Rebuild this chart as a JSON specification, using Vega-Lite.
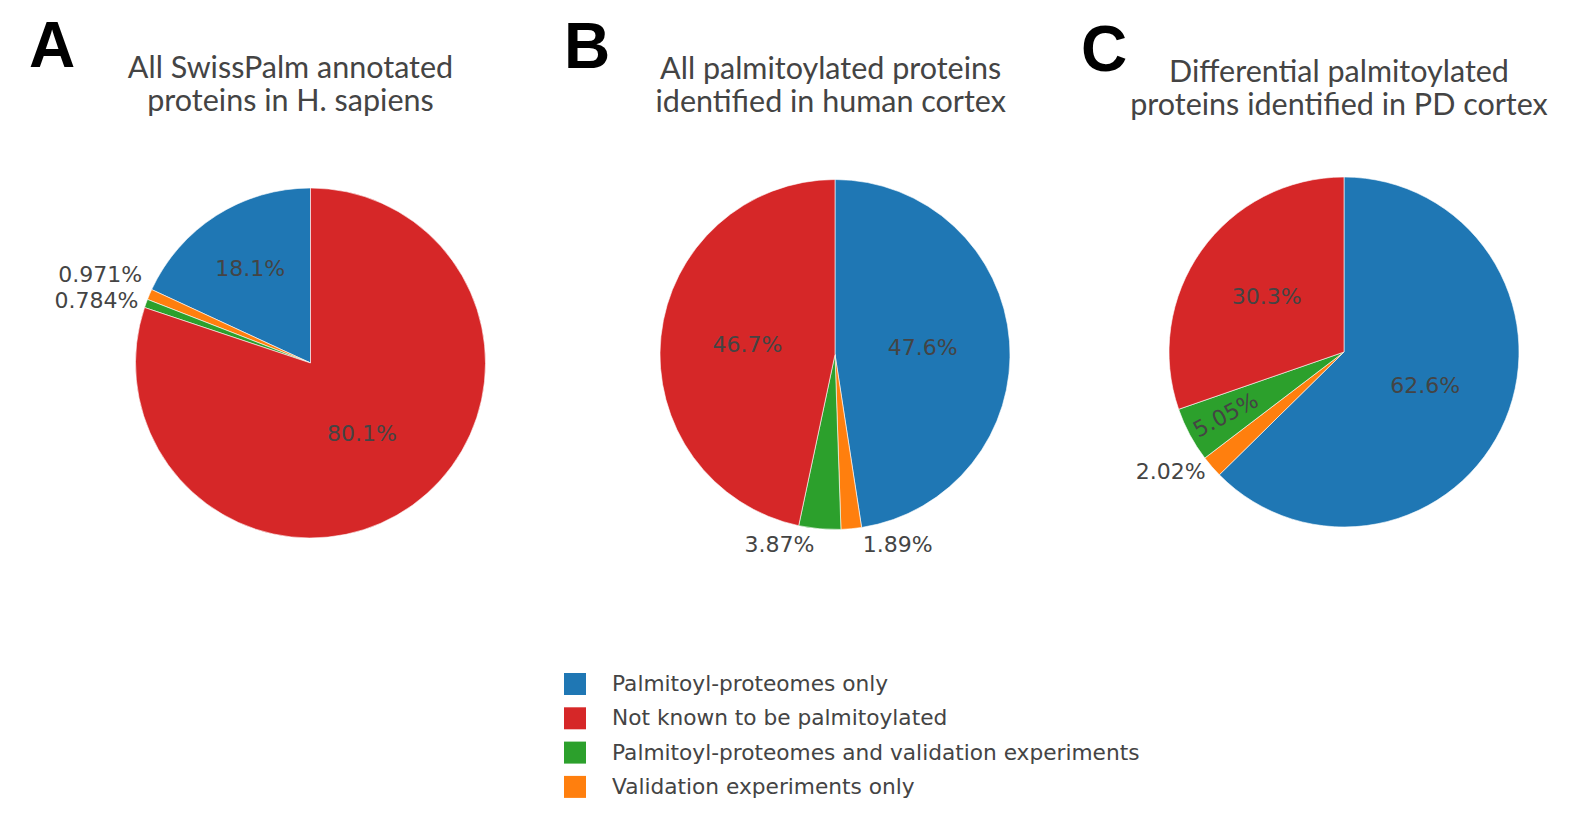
{
  "$schema": "https://vega.github.io/schema/vega-lite/v6.json",
  "background": "white",
  "padding": {"left": 29, "top": 15, "right": 0, "bottom": 0},
  "spacing": 17.5,
  "resolve": {"scale": {"theta": "independent"}},
  "config": {
    "view": {"stroke": null},
    "title": {"font": "Lato", "fontSize": 30.5, "color": "#444", "fontWeight": "normal", "lineHeight": 33, "anchor": "middle", "baseline": "bottom"},
    "text": {"font": "DejaVu Sans", "fontSize": 22, "color": "#444"},
    "legend": {"title": null}
  },
  "datasets": {
    "A": [
      {"cat": "Palmitoyl-proteomes only", "share": 0.181, "idx": 1},
      {"cat": "Validation experiments only", "share": 0.00971, "idx": 2},
      {"cat": "Palmitoyl-proteomes and validation experiments", "share": 0.00784, "idx": 3},
      {"cat": "Not known to be palmitoylated", "share": 0.801, "idx": 4}
    ],
    "B": [
      {"cat": "Palmitoyl-proteomes only", "share": 0.476, "idx": 1},
      {"cat": "Validation experiments only", "share": 0.0189, "idx": 2},
      {"cat": "Palmitoyl-proteomes and validation experiments", "share": 0.0387, "idx": 3},
      {"cat": "Not known to be palmitoylated", "share": 0.467, "idx": 4}
    ],
    "C": [
      {"cat": "Palmitoyl-proteomes only", "share": 0.626, "idx": 1},
      {"cat": "Validation experiments only", "share": 0.0202, "idx": 2},
      {"cat": "Palmitoyl-proteomes and validation experiments", "share": 0.0505, "idx": 3},
      {"cat": "Not known to be palmitoylated", "share": 0.303, "idx": 4}
    ]
  },
  "hconcat": [
    {
      "title": {"text": "A", "anchor": "start", "frame": "group", "font": "Liberation Sans", "fontSize": 64, "fontWeight": "bold", "color": "#000", "baseline": "alphabetic", "dx": -46, "offset": 81, "dy": 158},
      "vconcat": [
        {
          "width": 471, "height": 424,
          "title": {"text": ["All SwissPalm annotated", "proteins in H. sapiens"], "dx": -20, "offset": 34},
          "data": {"name": "A"},
          "encoding": {
            "theta": {"field": "share", "type": "quantitative", "stack": true},
            "order": {"field": "idx", "type": "quantitative", "sort": "descending"}
          },
          "layer": [
            {"mark": {"type": "arc", "radius": 175, "stroke": "#fff", "strokeWidth": 0.6},
             "encoding": {"color": {"field": "cat", "type": "nominal",
               "scale": {"domain": ["Palmitoyl-proteomes only", "Not known to be palmitoylated", "Palmitoyl-proteomes and validation experiments", "Validation experiments only"], "range": ["#1f77b4", "#d62728", "#2ca02c", "#ff7f0e"]},
               "legend": {"orient": "none", "legendX": 489, "legendY": 522, "direction": "vertical", "symbolType": "square", "symbolSize": 484, "symbolStrokeWidth": 0, "symbolOpacity": 1, "labelFont": "DejaVu Sans", "labelFontSize": 21.7, "labelColor": "#444", "labelOffset": 26, "rowPadding": 11.3, "labelLimit": 800}}}},
            {"mark": {"type": "text", "radius": 88},
             "encoding": {"text": {"condition": {"test": "datum.idx == 4", "field": "share", "type": "quantitative", "format": ".3~%"}, "value": ""}}},
            {"mark": {"type": "text", "radius": 112},
             "encoding": {"text": {"condition": {"test": "datum.idx == 1", "field": "share", "type": "quantitative", "format": ".3~%"}, "value": ""}}},
            {"mark": {"type": "text", "radius": 183, "align": "right", "dy": -16},
             "encoding": {"text": {"condition": {"test": "datum.idx == 2", "field": "share", "type": "quantitative", "format": ".3~%"}, "value": ""}}},
            {"mark": {"type": "text", "radius": 183, "align": "right"},
             "encoding": {"text": {"condition": {"test": "datum.idx == 3", "field": "share", "type": "quantitative", "format": ".3~%"}, "value": ""}}}
          ]
        }
      ]
    },
    {
      "title": {"text": "B", "anchor": "start", "frame": "group", "font": "Liberation Sans", "fontSize": 64, "fontWeight": "bold", "color": "#000", "baseline": "alphabetic", "dx": -42.5, "offset": 81, "dy": 158},
      "vconcat": [
        {
          "width": 457, "height": 407,
          "title": {"text": ["All palmitoylated proteins", "identified in human cortex"], "dx": -4.3, "offset": 32.6},
          "data": {"name": "B"},
          "encoding": {
            "theta": {"field": "share", "type": "quantitative", "stack": true},
            "order": {"field": "idx", "type": "quantitative", "sort": "ascending"}
          },
          "layer": [
            {"mark": {"type": "arc", "radius": 175, "stroke": "#fff", "strokeWidth": 0.6},
             "encoding": {"color": {"field": "cat", "type": "nominal"}}},
            {"mark": {"type": "text", "radius": 88},
             "encoding": {"text": {"condition": {"test": "datum.idx == 1 || datum.idx == 4", "field": "share", "type": "quantitative", "format": ".3~%"}, "value": ""}}},
            {"mark": {"type": "text", "radius": 191, "align": "left", "dx": 10},
             "encoding": {"text": {"condition": {"test": "datum.idx == 2", "field": "share", "type": "quantitative", "format": ".3~%"}, "value": ""}}},
            {"mark": {"type": "text", "radius": 191, "align": "right", "dx": -4},
             "encoding": {"text": {"condition": {"test": "datum.idx == 3", "field": "share", "type": "quantitative", "format": ".3~%"}, "value": ""}}}
          ]
        }
      ]
    },
    {
      "title": {"text": "C", "anchor": "start", "frame": "group", "font": "Liberation Sans", "fontSize": 64, "fontWeight": "bold", "color": "#000", "baseline": "alphabetic", "dx": -48, "offset": 81, "dy": 158},
      "vconcat": [
        {
          "width": 430, "height": 402,
          "title": {"text": ["Differential palmitoylated", "proteins identified in PD cortex"], "dx": -5, "offset": 29.3},
          "data": {"name": "C"},
          "encoding": {
            "theta": {"field": "share", "type": "quantitative", "stack": true},
            "order": {"field": "idx", "type": "quantitative", "sort": "ascending"}
          },
          "layer": [
            {"mark": {"type": "arc", "radius": 175, "stroke": "#fff", "strokeWidth": 0.6},
             "encoding": {"color": {"field": "cat", "type": "nominal"}}},
            {"mark": {"type": "text", "radius": 88},
             "encoding": {"text": {"condition": {"test": "datum.idx == 1", "field": "share", "type": "quantitative", "format": ".3~%"}, "value": ""}}},
            {"mark": {"type": "text", "radius": 95},
             "encoding": {"text": {"condition": {"test": "datum.idx == 4", "field": "share", "type": "quantitative", "format": ".3~%"}, "value": ""}}},
            {"mark": {"type": "text", "radius": 134, "angle": 332},
             "encoding": {"text": {"condition": {"test": "datum.idx == 3", "field": "share", "type": "quantitative", "format": ".3~%"}, "value": ""}}},
            {"mark": {"type": "text", "radius": 183, "align": "right"},
             "encoding": {"text": {"condition": {"test": "datum.idx == 2", "field": "share", "type": "quantitative", "format": ".3~%"}, "value": ""}}}
          ]
        }
      ]
    }
  ]
}
